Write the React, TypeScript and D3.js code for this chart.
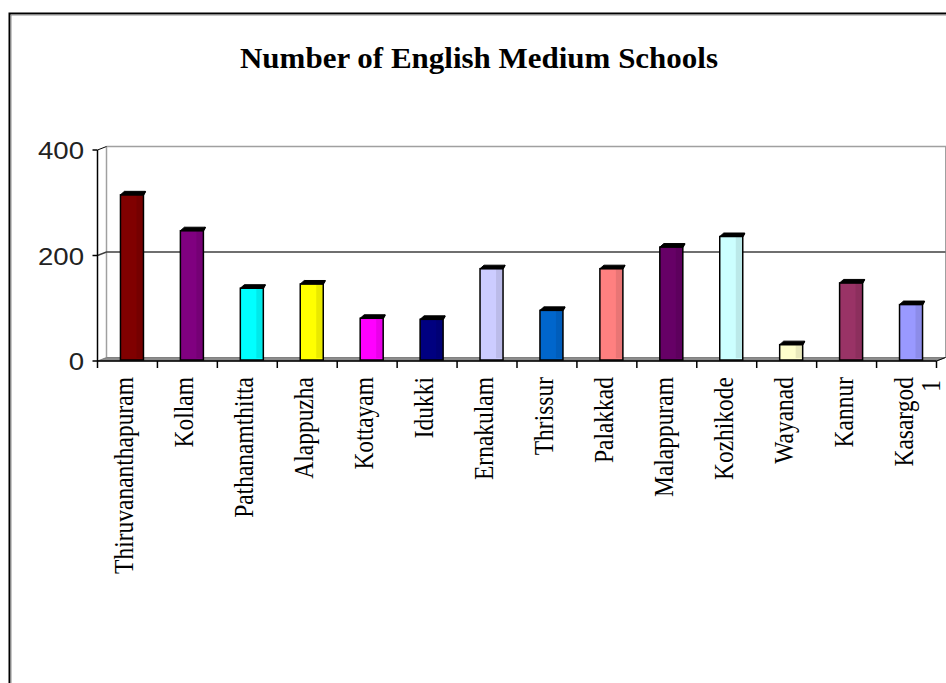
import React from "react";
import * as d3 from "d3";

const categories = [
  "Thiruvananthapuram", "Kollam", "Pathanamthitta", "Alappuzha", "Kottayam", "Idukki",
  "Ernakulam", "Thrissur", "Palakkad", "Malappuram", "Kozhikode", "Wayanad", "Kannur", "Kasargod",
];
const values = [315, 247, 138, 146, 81, 79, 175, 96, 175, 216, 236, 31, 148, 107];
const barColors = [
  "#800000", "#800080", "#00FFFF", "#FFFF00", "#FF00FF", "#000080",
  "#CCCCFF", "#0066CC", "#FF8080", "#660066", "#CCFFFF", "#FFFFCC", "#993366", "#9999FF",
];
const yTicks = [0, 200, 400];
const title = "Number of English Medium Schools";
const extraLabel = "1";

export default function App() {
  const W = 946, H = 683;
  const x = d3.scaleBand<string>().domain(categories).range([97.5, 936.5]).padding(0);
  const y = d3.scaleLinear().domain([0, 400]).range([361, 150]);
  const dx = 9, dy = -3.5;
  const x0 = x.range()[0], x1 = x.range()[1];
  const y0 = y(0);
  const bw = x.bandwidth();
  const barW = 23;

  return (
    <svg width={W} height={H} style={{ position: "absolute", left: 0, top: 0, background: "#fff" }}>
      {/* frame */}
      <rect x={9.5} y={13.5} width={1000} height={1000} fill="#fff" stroke="#000" strokeWidth={2} />
      <rect x={11} y={15} width={1000} height={1000} fill="none" stroke="#909090" strokeWidth={1} />

      {/* title */}
      <text x={479} y={68} textAnchor="middle" fontFamily="'Liberation Serif', serif" fontWeight="bold"
        fontSize={29} textLength={478} lengthAdjust="spacingAndGlyphs" fill="#000">{title}</text>

      {/* back wall */}
      <line x1={x0 + dx} y1={y(400) + dy} x2={x0 + dx} y2={y0 + dy} stroke="#a0a0a0" strokeWidth={1.5} />
      <line x1={x0 + dx} y1={y(400) + dy} x2={W} y2={y(400) + dy} stroke="#a0a0a0" strokeWidth={1.5} />
      <line x1={x1 + dx} y1={y(400) + dy} x2={x1 + dx} y2={y0 + dy} stroke="#a0a0a0" strokeWidth={1} />

      {/* gridlines */}
      {yTicks.filter(t => t > 0 && t < 400).map(t => (
        <path key={"g" + t} d={`M${x0},${y(t)} L${x0 + dx},${y(t) + dy} L${x1 + dx},${y(t) + dy}`}
          fill="none" stroke="#404040" strokeWidth={1.5} />
      ))}
      <line x1={x0} y1={y(400)} x2={x0 + dx} y2={y(400) + dy} stroke="#000" strokeWidth={1} />

      {/* floor */}
      <polygon points={`${x0},${y0} ${x0 + dx},${y0 + dy} ${x1 + dx},${y0 + dy} ${x1},${y0}`}
        fill="#8c8c8c" stroke="#707070" strokeWidth={0.8} />

      {/* bars */}
      {categories.map((c, i) => {
        const bx = (x(c) as number) + bw / 2 - 7;
        const top = y(values[i]);
        const bottom = y0 - 1;
        const col = barColors[i];
        const side = d3.color(col)!.darker(0.25).formatHex();
        return (
          <g key={c}>
            <rect x={bx} y={top} width={barW} height={bottom - top} fill={col} />
            <rect x={bx + 16} y={top} width={barW - 16} height={bottom - top - 2} fill={side} />
            <polygon points={`${bx},${top} ${bx + 4},${top - 3.5} ${bx + barW + 2},${top - 3.5} ${bx + barW},${top}`}
              fill="#000" stroke="#000" strokeWidth={1} />
            <rect x={bx} y={top} width={barW} height={bottom - top} fill="none" stroke="#000" strokeWidth={1.5} />
            <line x1={bx + barW + 2} y1={top - 3.5} x2={bx + barW} y2={top} stroke="#000" strokeWidth={1.5} />
          </g>
        );
      })}

      {/* y axis */}
      <line x1={x0} y1={y(400)} x2={x0} y2={y0} stroke="#000" strokeWidth={1.5} />
      {yTicks.map(t => (
        <g key={"yt" + t}>
          <line x1={x0 - 5} y1={y(t)} x2={x0} y2={y(t)} stroke="#000" strokeWidth={1.5} />
          <text transform={`translate(84,${y(t) + 1}) scale(1.2,1)`} textAnchor="end" dominantBaseline="central"
            fontFamily="'Liberation Sans', Arial, sans-serif" fontSize={23} fill="#222">{t}</text>
        </g>
      ))}

      {/* x axis */}
      <line x1={x0} y1={y0} x2={x1} y2={y0} stroke="#000" strokeWidth={1.5} />
      <line x1={x1} y1={y0} x2={x1 + dx} y2={y0 + dy} stroke="#000" strokeWidth={1} />
      {[...categories.map(c => x(c) as number), x1].map((tx, i) => (
        <line key={"xt" + i} x1={tx} y1={y0} x2={tx} y2={y0 + 7} stroke="#000" strokeWidth={1.5} />
      ))}
      {categories.map(c => {
        const cx = (x(c) as number) + bw / 2 + 6;
        return (
          <text key={"l" + c} transform={`translate(${cx},377) rotate(-90) scale(1,1.2)`} textAnchor="end"
            fontFamily="'Liberation Serif', serif" fontSize={23.5} fill="#000">{c}</text>
        );
      })}
      <text transform={`translate(${x1 + 3},380) rotate(-90) scale(1,1.2)`} textAnchor="end"
        fontFamily="'Liberation Serif', serif" fontSize={23.5} fill="#000">{extraLabel}</text>
    </svg>
  );
}
